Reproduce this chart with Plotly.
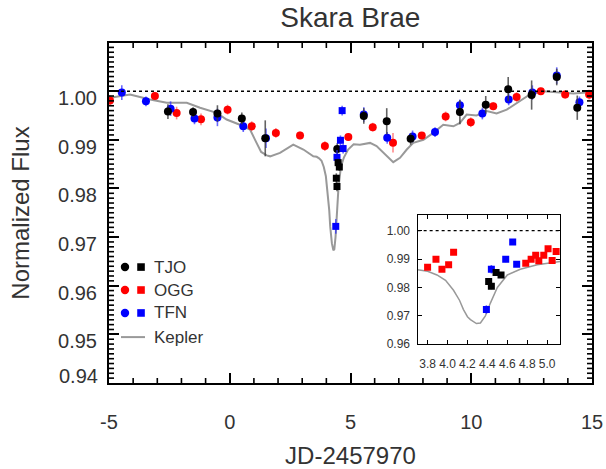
import plotly.graph_objects as go

# ---------------- data ----------------
# Binned photometry (circles): JD-2457970, normalized flux, error
tjo_x = [-2.56, -1.52, -0.51, 0.50, 1.47, 4.45, 5.55, 6.50, 7.49, 9.53, 10.60, 11.53, 12.50, 13.54, 14.39]
tjo_y = [0.9958, 0.9957, 0.9954, 0.9944, 0.9903, 0.9881, 0.9949, 0.9938, 0.9902, 0.9957, 0.9972, 1.0004, 0.9992, 1.0029, 0.9966]
tjo_e = [0.0015, 0.0010, 0.0017, 0.0012, 0.0037, 0.0012, 0.0016, 0.0027, 0.0012, 0.0025, 0.0018, 0.0025, 0.0030, 0.0017, 0.0025]

ogg_x = [-4.96, -3.10, -2.20, -1.19, -0.09, 0.91, 1.91, 2.91, 3.94, 4.91, 5.92, 6.76, 7.95, 8.94, 9.98, 10.91, 11.88, 12.88, 13.89, 14.88]
ogg_y = [0.9981, 0.9990, 0.9955, 0.9942, 0.9962, 0.9928, 0.9914, 0.9909, 0.9887, 0.9906, 0.9926, 0.9894, 0.9909, 0.9948, 0.9936, 0.9969, 0.9988, 1.0000, 0.9993, 0.9993]
ogg_e = [0.0010, 0.0007, 0.0013, 0.0012, 0.0010, 0.0010, 0.0010, 0.0008, 0.0010, 0.0008, 0.0009, 0.0020, 0.0007, 0.0010, 0.0010, 0.0008, 0.0010, 0.0007, 0.0008, 0.0010]

tfn_x = [-4.47, -3.47, -2.45, -1.46, -0.51, 0.56, 1.50, 5.55, 6.52, 7.57, 8.50, 9.53, 10.46, 11.55, 12.53, 13.54, 14.48]
tfn_y = [0.9997, 0.9979, 0.9964, 0.9944, 0.9946, 0.9928, 0.9903, 0.9952, 0.9904, 0.9907, 0.9916, 0.9971, 0.9954, 0.9983, 0.9997, 1.0032, 0.9977]
tfn_e = [0.0015, 0.0010, 0.0015, 0.0012, 0.0018, 0.0012, 0.0020, 0.0015, 0.0012, 0.0012, 0.0010, 0.0012, 0.0012, 0.0012, 0.0015, 0.0017, 0.0012]

# Unbinned photometry around the dip (squares)
tjo_sq_x = [4.413, 4.440, 4.487, 4.537]
tjo_sq_y = [0.9821, 0.9804, 0.9853, 0.9844]
tjo_sq_e = [0.0010, 0.0010, 0.0008, 0.0008]

tfn_sq_x = [4.390, 4.440, 4.584, 4.654, 4.694]
tfn_sq_y = [0.9722, 0.9864, 0.9899, 0.9960, 0.9882]
tfn_sq_e = [0.0015, 0.0015, 0.0010, 0.0010, 0.0010]

ogg_sq_x = [3.800, 3.884, 3.944, 4.011, 4.061, 4.785, 4.839, 4.885, 4.916, 4.966, 5.009, 5.050, 5.090]
ogg_sq_y = [0.9871, 0.9899, 0.9864, 0.9880, 0.9924, 0.9885, 0.9899, 0.9913, 0.9894, 0.9913, 0.9936, 0.9895, 0.9927]
ogg_sq_e = [0.0007, 0.0007, 0.0007, 0.0007, 0.0008, 0.0007, 0.0007, 0.0007, 0.0007, 0.0007, 0.0007, 0.0007, 0.0007]

# Kepler light curve
kep_x = [-4.95, -4.13, -3.30, -2.61, -1.78, -1.23, -0.54, -0.13, 0.42, 0.84, 1.11, 1.30, 1.53, 1.67,
         2.08, 2.63, 3.05, 3.46, 3.60, 3.70, 3.80, 3.894, 3.98, 4.06, 4.12, 4.16, 4.20, 4.23, 4.29,
         4.33, 4.38, 4.43, 4.50, 4.60, 4.73, 4.90, 5.13, 5.39, 5.81, 6.08, 6.36, 6.63, 6.77, 7.05,
         7.33, 7.60, 8.02, 8.43, 8.84, 9.26, 9.53, 9.81, 10.22, 10.64, 11.05, 11.47, 12.02, 12.43,
         12.98, 13.68, 14.23, 14.92]
kep_y = [0.99864, 0.99932, 0.9983, 0.9976, 0.9976, 0.9966, 0.99555, 0.99417, 0.9931, 0.9921, 0.98936,
         0.9875, 0.9868, 0.9866, 0.9873, 0.9890, 0.9880, 0.9866, 0.9865, 0.9862, 0.9857, 0.9844,
         0.9825, 0.9790, 0.9755, 0.9722, 0.9697, 0.9687, 0.9673, 0.9675, 0.9700, 0.9745, 0.9800,
         0.9844, 0.9864, 0.9880, 0.9891, 0.9890, 0.98936, 0.9887, 0.9873, 0.9859, 0.9854, 0.9863,
         0.9880, 0.98936, 0.9900, 0.99142, 0.9931, 0.99278, 0.99348, 0.9952, 0.9950, 0.9959,
         0.9954, 0.9962, 0.9979, 0.99932, 1.0000, 0.99966, 0.9995, 0.9998]

REFERENCE_FLUX = 1.0
main_xticks = [-5, 0, 5, 10, 15]
main_xticklabels = ["-5", "0", "5", "10", "15"]
main_yticks = [0.94, 0.95, 0.96, 0.97, 0.98, 0.99, 1.00]
main_yticklabels = ["", "0.95", "0.96", "0.97", "0.98", "0.99", "1.00"]   # 0.94 is placed separately
inset_xticks = [3.8, 4.0, 4.2, 4.4, 4.6, 4.8, 5.0]
inset_xticklabels = ["3.8", "4.0", "4.2", "4.4", "4.6", "4.8", "5.0"]

X_RANGE = [-5, 15]
Y_RANGE = [0.94, 1.0099]
# minor tick positions of the main panel
main_xminor = [v for v in range(-4, 15) if v % 5 != 0]
main_yminor = [(940 + i) / 1000 for i in range(1, 70) if i % 10 != 0]

legend_names = ["TJO", "OGG", "TFN"]
legend_colors = ["#000000", "#ff0000", "#0000ff"]

# ---------------- figure ----------------
FONT = "Liberation Sans, Arial, Helvetica, sans-serif"
TXT = "#333333"
RED, BLUE, BLACK = "#ff0000", "#0000ff", "#000000"
GRAY = "#999999"

W, H = 606, 469
ML, MR, MT, MB = 109, 14, 43, 86
PLOT_W, PLOT_H = W - ML - MR, H - MT - MB
MINOR_PX = 5
minor_dx = MINOR_PX * (X_RANGE[1] - X_RANGE[0]) / PLOT_W   # tick length along x, data units
minor_dy = MINOR_PX * (Y_RANGE[1] - Y_RANGE[0]) / PLOT_H   # tick length along y, data units

fig = go.Figure()

def pts(x, y, e, color, ecolor, symbol, size, xa="x", ya="y"):
    fig.add_trace(go.Scatter(
        x=x, y=y, mode="markers", xaxis=xa, yaxis=ya, showlegend=False,
        marker=dict(color=color, symbol=symbol, size=size, line=dict(width=0)),
        error_y=dict(type="data", array=e, color=ecolor, thickness=1.6, width=0),
    ))

# main panel
fig.add_trace(go.Scatter(x=kep_x, y=kep_y, mode="lines", line=dict(color=GRAY, width=2),
                         showlegend=False, xaxis="x", yaxis="y"))
pts(ogg_x, ogg_y, ogg_e, RED, "rgba(255,60,60,0.6)", "circle", 8)
pts(tfn_x, tfn_y, tfn_e, BLUE, "rgba(40,40,255,0.7)", "circle", 8)
pts(tjo_x, tjo_y, tjo_e, BLACK, "rgba(60,60,60,0.8)", "circle", 8)
pts(tfn_sq_x, tfn_sq_y, tfn_sq_e, BLUE, "rgba(40,40,255,0.7)", "square", 7)
pts(tjo_sq_x, tjo_sq_y, tjo_sq_e, BLACK, "rgba(60,60,60,0.8)", "square", 7)

# inset panel
fig.add_trace(go.Scatter(x=kep_x, y=kep_y, mode="lines", line=dict(color=GRAY, width=1.5),
                         showlegend=False, xaxis="x2", yaxis="y2"))
pts(ogg_sq_x, ogg_sq_y, ogg_sq_e, RED, "rgba(255,60,60,0.6)", "square", 7, "x2", "y2")
pts(tfn_sq_x, tfn_sq_y, tfn_sq_e, BLUE, "rgba(40,40,255,0.7)", "square", 7, "x2", "y2")
pts(tjo_sq_x, tjo_sq_y, tjo_sq_e, BLACK, "rgba(60,60,60,0.8)", "square", 7, "x2", "y2")

# reference lines
fig.add_shape(type="line", xref="x domain", yref="y", x0=0, x1=1, y0=REFERENCE_FLUX, y1=REFERENCE_FLUX,
              line=dict(color="black", width=1.5, dash="dot"))
fig.add_shape(type="line", xref="x2 domain", yref="y2", x0=0, x1=1, y0=REFERENCE_FLUX, y1=REFERENCE_FLUX,
              line=dict(color="black", width=1.2, dash="dot"))

# minor ticks on all four sides (inside)
tick_line = dict(color="black", width=1.6)
for v in main_xminor:
    fig.add_shape(type="line", xref="x", yref="y", x0=v, x1=v,
                  y0=Y_RANGE[0], y1=Y_RANGE[0] + minor_dy, line=tick_line)
    fig.add_shape(type="line", xref="x", yref="y", x0=v, x1=v,
                  y0=Y_RANGE[1], y1=Y_RANGE[1] - minor_dy, line=tick_line)
for v in main_yminor:
    fig.add_shape(type="line", xref="x", yref="y", y0=v, y1=v,
                  x0=X_RANGE[0], x1=X_RANGE[0] + minor_dx, line=tick_line)
    fig.add_shape(type="line", xref="x", yref="y", y0=v, y1=v,
                  x0=X_RANGE[1], x1=X_RANGE[1] - minor_dx, line=tick_line)

axis_common = dict(showline=True, linecolor="black", linewidth=2, mirror="ticks",
                   ticks="inside", tickcolor="black", showgrid=False, zeroline=False, automargin=False,
                   tickfont=dict(family=FONT, size=20, color=TXT))

fig.update_layout(
    width=W, height=H,
    margin=dict(l=ML, r=MR, t=MT, b=MB),
    paper_bgcolor="white", plot_bgcolor="white",
    font=dict(family=FONT, color=TXT),
    title=dict(text="Skara Brae", x=0.578, xanchor="center", y=1 - 17 / 469, yanchor="middle",
               yref="container", font=dict(family=FONT, size=28, color=TXT)),
    xaxis=dict(axis_common, range=X_RANGE, tickmode="array", tickvals=main_xticks,
               ticktext=main_xticklabels, ticklen=10, tickwidth=1.8, ticklabelstandoff=20,
               title=dict(text="JD-2457970", standoff=19, font=dict(family=FONT, size=24, color=TXT))),
    yaxis=dict(axis_common, range=Y_RANGE, tickmode="array", tickvals=main_yticks,
               ticktext=main_yticklabels, ticklen=10, tickwidth=1.8, ticklabelshift=7,
               ticklabelstandoff=6,
               title=dict(text="Normalized Flux", standoff=22, font=dict(family=FONT, size=24, color=TXT))),
    xaxis2=dict(axis_common, domain=[0.639, 0.934], anchor="y2", range=[3.70, 5.13],
                tickmode="array", tickvals=inset_xticks, ticktext=inset_xticklabels,
                ticklen=4, linewidth=1.4,
                tickfont=dict(family=FONT, size=12, color=TXT), ticklabelstandoff=8),
    yaxis2=dict(axis_common, domain=[0.114, 0.494], anchor="x2", range=[0.96, 1.0055],
                tickmode="linear", tick0=0.96, dtick=0.01, tickformat=".2f", ticklen=4, linewidth=1.4,
                tickfont=dict(family=FONT, size=12, color=TXT), ticklabelstandoff=4),
)

# bottom y label sits just above its tick, as in the original
fig.add_annotation(text="0.94", xref="x domain", yref="y", x=0, y=main_yticks[0], xanchor="right",
                   yanchor="middle", xshift=-9, yshift=7, showarrow=False,
                   font=dict(family=FONT, size=20, color=TXT))

# custom legend (paper coordinates of plot area)
row_y = [0.341, 0.2735, 0.206]
for name, col, yy in zip(legend_names, legend_colors, row_y):
    dx, dy = 4.2 / PLOT_W, 4.2 / PLOT_H
    fig.add_shape(type="circle", xref="paper", yref="paper", x0=0.0331 - dx, x1=0.0331 + dx,
                  y0=yy - dy, y1=yy + dy, fillcolor=col, line=dict(width=0))
    sx, sy = 3.8 / PLOT_W, 3.8 / PLOT_H
    fig.add_shape(type="rect", xref="paper", yref="paper", x0=0.0663 - sx, x1=0.0663 + sx,
                  y0=yy - sy, y1=yy + sy, fillcolor=col, line=dict(width=0))
    fig.add_annotation(text=name, xref="paper", yref="paper", x=0.089, y=yy, xanchor="left",
                       yanchor="middle", showarrow=False, font=dict(family=FONT, size=17, color=TXT))
fig.add_shape(type="line", xref="paper", yref="paper", x0=0.0248, x1=0.0745, y0=0.135, y1=0.135,
              line=dict(color=GRAY, width=2))
fig.add_annotation(text="Kepler", xref="paper", yref="paper", x=0.089, y=0.135, xanchor="left",
                   yanchor="middle", showarrow=False, font=dict(family=FONT, size=17, color=TXT))

fig.write_html("out.html", config={"displayModeBar": False},
               post_script="document.body.style.margin='0';document.body.style.padding='0';"
                           "document.body.style.overflow='hidden';")
